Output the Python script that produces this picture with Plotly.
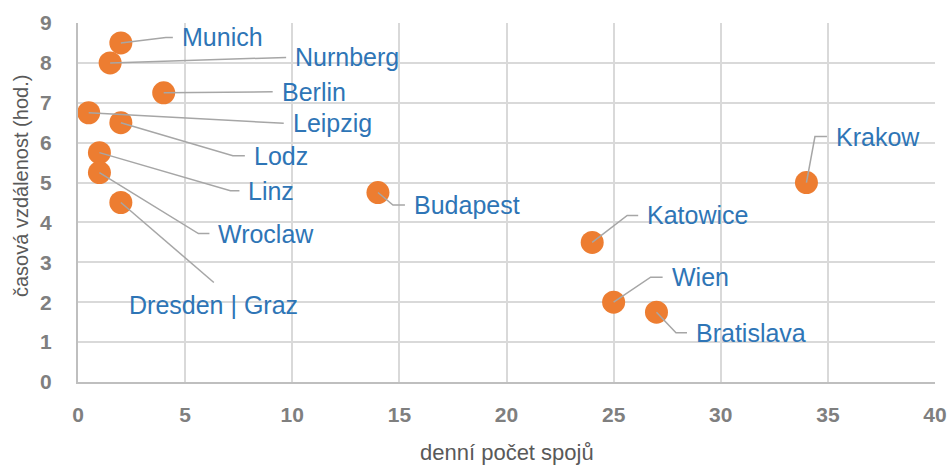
import plotly.graph_objects as go

# --- data -------------------------------------------------------------
cities = ["Munich", "Nurnberg", "Berlin", "Leipzig", "Lodz", "Linz", "Wroclaw",
          "Dresden | Graz", "Budapest", "Katowice", "Wien", "Bratislava", "Krakow"]
daily_connections = [2, 1.5, 4, 0.5, 2, 1, 1, 2, 14, 24, 25, 27, 34]
travel_hours = [8.5, 8, 7.25, 6.75, 6.5, 5.75, 5.25, 4.5, 4.75, 3.5, 2, 1.75, 5]
x_ticks = [0, 5, 10, 15, 20, 25, 30, 35, 40]
y_ticks = [0, 1, 2, 3, 4, 5, 6, 7, 8, 9]

# --- geometry ---------------------------------------------------------
W, H = 951, 467
M = dict(l=78, r=16, t=23, b=85)
X_RANGE = [0, 40]
Y_RANGE = [0, 9]
px_x = (W - M["l"] - M["r"]) / (X_RANGE[1] - X_RANGE[0])
px_y = (H - M["t"] - M["b"]) / (Y_RANGE[1] - Y_RANGE[0])

# leader line placement in screen pixels: (elbow dx, elbow dy, shelf length)
leader = {
    "Munich": (45, -5.5, 7),
    "Nurnberg": (168, -5.5, 8),
    "Berlin": (100, -1, 9),
    "Leipzig": (187, 10.5, 8),
    "Lodz": (112, 33, 12),
    "Linz": (131, 38, 9),
    "Wroclaw": (99, 61, 11),
    "Dresden | Graz": (93, 80, 0),
    "Budapest": (15, 12.5, 12),
    "Katowice": (35, -27, 11),
    "Wien": (37, -25, 12),
    "Bratislava": (19.5, 20.5, 11),
    "Krakow": (8.5, -46, 12),
}
TEXT_GAP = 7

ORANGE = "#ED7D31"
BLUE = "#2E75B6"
LEADER = "#A6A6A6"
GRID = "#D9D9D9"
TICK = "#7F7F7F"
TITLE = "#595959"
FONT = "Liberation Sans, Arial, sans-serif"
LABEL_SIZE = 25

fig = go.Figure()
fig.add_trace(go.Scatter(
    x=daily_connections, y=travel_hours, mode="markers",
    marker=dict(size=23, color=ORANGE, line=dict(width=0)),
    cliponaxis=False, hoverinfo="text", text=cities, showlegend=False,
))

annotations = []
for name, xv, yv in zip(cities, daily_connections, travel_hours):
    dx, dy, shelf = leader[name]
    ex = xv + dx / px_x
    ey = yv - dy / px_y
    sx = ex + shelf / px_x
    fig.add_trace(go.Scatter(
        x=[xv, ex, sx], y=[yv, ey, ey], mode="lines",
        line=dict(color=LEADER, width=1.5), cliponaxis=False,
        hoverinfo="skip", showlegend=False,
    ))
    if name == "Dresden | Graz":
        annotations.append(dict(
            x=ex, y=ey - 22 / px_y, xref="x", yref="y", text=name,
            showarrow=False, xanchor="center", yanchor="middle",
            font=dict(family=FONT, size=LABEL_SIZE, color=BLUE),
        ))
    else:
        annotations.append(dict(
            x=sx + TEXT_GAP / px_x, y=ey, xref="x", yref="y", text=name,
            showarrow=False, xanchor="left", yanchor="middle",
            font=dict(family=FONT, size=LABEL_SIZE, color=BLUE),
        ))

# axis titles
annotations.append(dict(
    text="denní počet spojů", xref="paper", yref="paper",
    x=(507 - M["l"]) / (W - M["l"] - M["r"]), y=-(452 - (H - M["b"])) / (H - M["t"] - M["b"]),
    xanchor="center", yanchor="middle", showarrow=False,
    font=dict(family=FONT, size=22, color=TITLE),
))
annotations.append(dict(
    text="časová vzdálenost (hod.)", xref="paper", yref="paper", textangle=-90,
    x=-(M["l"] - 21) / (W - M["l"] - M["r"]), y=((H - M["b"]) - 186) / (H - M["t"] - M["b"]),
    xanchor="center", yanchor="middle", showarrow=False,
    font=dict(family=FONT, size=20, color=TITLE),
))

fig.update_layout(
    width=W, height=H, margin=M,
    paper_bgcolor="white", plot_bgcolor="white",
    font=dict(family=FONT, color=TITLE),
    annotations=annotations,
    xaxis=dict(
        range=X_RANGE, tickvals=x_ticks, ticktext=[str(v) for v in x_ticks],
        showgrid=True, gridcolor=GRID, gridwidth=1.5, zeroline=False,
        showline=True, linecolor="#BFBFBF", linewidth=2,
        ticks="", ticklabelstandoff=13, automargin=False,
        tickfont=dict(family=FONT, size=21, color=TICK, weight="bold"),
        fixedrange=True,
    ),
    yaxis=dict(
        range=Y_RANGE, tickvals=y_ticks, ticktext=[str(v) for v in y_ticks],
        showgrid=True, gridcolor=GRID, gridwidth=1.5, zeroline=False,
        showline=True, linecolor="#BFBFBF", linewidth=2,
        ticks="", ticklabelstandoff=20, automargin=False,
        tickfont=dict(family=FONT, size=21, color=TICK, weight="bold"),
        fixedrange=True,
    ),
)

fig.write_html("out.html")
